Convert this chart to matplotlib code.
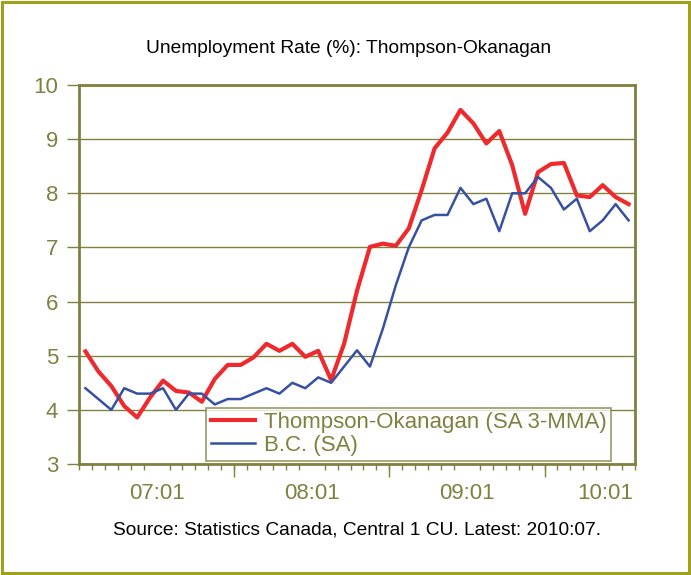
import numpy as np
import pandas as pd
import matplotlib
matplotlib.use("Agg")
import matplotlib.pyplot as plt
from matplotlib.patches import Rectangle

# monthly data, 2007:01 .. 2010:07
meses = pd.period_range("2007-01", "2010-07", freq="M")

thompson = [5.08, 4.71, 4.44, 4.07, 3.86, 4.23, 4.54, 4.35, 4.32, 4.15,
            4.57, 4.83, 4.83, 4.97, 5.22, 5.09, 5.22, 4.98, 5.09, 4.55,
            5.22, 6.20, 7.01, 7.07, 7.03, 7.35, 8.06, 8.83, 9.12, 9.54,
            9.29, 8.92, 9.15, 8.52, 7.62, 8.39, 8.54, 8.56, 7.96, 7.93,
            8.15, 7.93, 7.80]
bc = [4.4, 4.2, 4.0, 4.4, 4.3, 4.3, 4.4, 4.0, 4.3, 4.3,
      4.1, 4.2, 4.2, 4.3, 4.4, 4.3, 4.5, 4.4, 4.6, 4.5,
      4.8, 5.1, 4.8, 5.5, 6.3, 7.0, 7.5, 7.6, 7.6, 8.1,
      7.8, 7.9, 7.3, 8.0, 8.0, 8.3, 8.1, 7.7, 7.9, 7.3,
      7.5, 7.8, 7.5]

etiquetas = ["07:01", "08:01", "09:01", "10:01"]
pos_etiquetas = [5.5, 17.5, 29.5, 40.2]   # centred over each year block
cortes_anio = [11.5, 23.5, 35.5]

OLIVA = "#808040"
ROJO = "#EE2A2E"
AZUL = "#3651A3"

plt.rcParams["font.family"] = ["Liberation Sans", "DejaVu Sans"]

fig = plt.figure(figsize=(6.91, 5.75), dpi=100)
ax = fig.add_axes([0.1143, 0.193, 0.8047, 0.6592])

x = np.arange(len(meses))
ax.plot(x, thompson, color=ROJO, lw=3.0, label="Thompson-Okanagan (SA 3-MMA)", zorder=3)
ax.plot(x, bc, color=AZUL, lw=1.8, label="B.C. (SA)", zorder=3)

ax.set_xlim(-0.5, len(meses) - 0.5)
ax.set_ylim(3, 10)
ax.set_yticks(range(3, 11))
ax.yaxis.grid(True, color=OLIVA, lw=1.0)
ax.set_axisbelow(True)

for s in ax.spines.values():
    s.set_color(OLIVA)
    s.set_linewidth(2.0)

ax.tick_params(axis="y", colors=OLIVA, labelsize=16, length=9, width=1.0, pad=6)
ax.set_xticks(pos_etiquetas)
ax.set_xticklabels(etiquetas)
ax.set_xticks(np.arange(-0.5, len(meses)), minor=True)
ax.tick_params(axis="x", which="major", length=0, colors=OLIVA, labelsize=16, pad=14)
ax.tick_params(axis="x", which="minor", length=4, width=1.0, color=OLIVA)

sec = ax.secondary_xaxis("bottom")
sec.set_xticks(cortes_anio)
sec.set_xticklabels([])
sec.tick_params(length=9, width=1.0, color=OLIVA)
sec.spines["bottom"].set_visible(False)

leg = ax.legend(loc="lower left", bbox_to_anchor=(0.223, 0.0), fontsize=16,
                frameon=True, fancybox=False, borderpad=0.2, labelspacing=0.1,
                handlelength=2.0, handletextpad=0.4, borderaxespad=0.15)
leg.get_frame().set_edgecolor(OLIVA)
leg.get_frame().set_linewidth(1.2)
for t in leg.get_texts():
    t.set_color(OLIVA)

fig.text(0.505, 0.915, "Unemployment Rate (%): Thompson-Okanagan",
         ha="center", va="center", fontsize=13.8, color="black")
fig.text(0.517, 0.079, "Source: Statistics Canada, Central 1 CU. Latest: 2010:07.",
         ha="center", va="center", fontsize=13.8, color="black")

fig.patches.append(Rectangle((0.003, 0.003), 0.994, 0.994, transform=fig.transFigure,
                             fill=False, edgecolor="#A0A020", lw=2.2))

fig.savefig("out.png", dpi=100)
